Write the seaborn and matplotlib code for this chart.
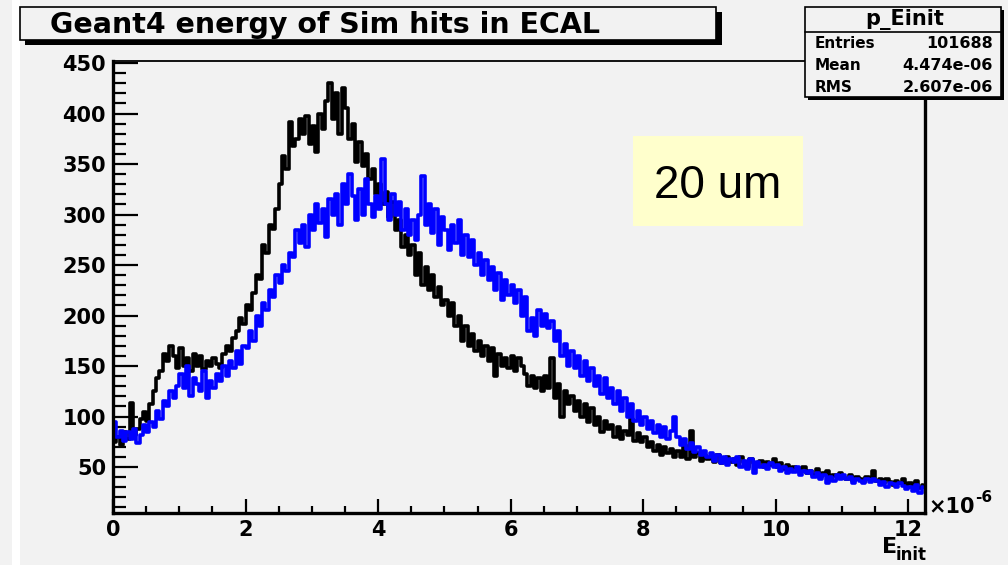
import numpy as np
import pandas as pd
import seaborn as sns
import matplotlib.pyplot as plt
from matplotlib.ticker import MultipleLocator
from matplotlib.patches import Rectangle

# histogram settings (E_init in units of 1e-6)
bin_width = 0.05
x_max = 12.25

# black histogram, one value per 0.05 bin (rows of 0.5)
black_counts = [
    75, 80, 72, 85, 78, 113, 82, 88, 98, 104,
    96, 112, 125, 138, 145, 162, 155, 170, 160, 148,
    168, 150, 158, 145, 162, 150, 160, 147, 155, 150,
    158, 152, 148, 162, 170, 165, 178, 185, 198, 192,
    210, 205, 222, 240, 236, 270, 262, 290, 286, 305,
    330, 358, 345, 392, 368, 375, 395, 380, 398, 370,
    388, 362, 400, 385, 412, 430, 395, 420, 380, 425,
    405, 375, 390, 352, 372, 348, 360, 335, 345, 320,
    330, 310, 322, 298, 312, 285, 295, 268, 280, 260,
    270, 240, 262, 230, 248, 225, 240, 218, 228, 210,
    215, 200, 212, 190, 200, 175, 190, 170, 182, 165,
    175, 160, 170, 155, 168, 140, 162, 150, 158, 148,
    160, 145, 158, 150, 142, 130, 140, 128, 138, 125,
    140, 128, 158, 118, 132, 100, 125, 112, 120, 105,
    115, 100, 112, 95, 108, 92, 100, 85, 96, 88,
    92, 80, 90, 78, 86, 82, 98, 76, 84, 75,
    80, 70, 75, 66, 72, 62, 70, 64, 68, 60,
    66, 60, 72, 58, 86, 60, 64, 56, 62, 58,
    60, 55, 62, 54, 58, 60, 55, 58, 52, 60,
    55, 50, 58, 54, 52, 56, 50, 55, 52, 58,
    50, 54, 48, 52, 46, 50, 48, 45, 50, 44,
    46, 42, 48, 40, 44, 46, 38, 42, 40, 44,
    40, 38, 42, 36, 40, 38, 35, 40, 37, 46,
    36, 38, 34, 38, 35, 32, 36, 34, 38, 32,
    34, 30, 36, 29, 32,
]

# blue histogram
blue_counts = [
    95, 80, 86, 76, 85, 78, 88, 74, 82, 92,
    85, 95, 90, 105, 98, 115, 110, 125, 118, 130,
    142, 128, 150, 120, 138, 132, 125, 145, 118, 135,
    128, 142, 135, 150, 140, 155, 148, 165, 152, 170,
    168, 185, 175, 200, 190, 212, 205, 225, 218, 240,
    232, 250, 244, 262, 258, 285, 272, 290, 268, 300,
    285, 310, 292, 305, 278, 315, 300, 320, 290, 330,
    310, 340, 318, 295, 325, 300, 335, 310, 298, 318,
    305, 355, 310, 295, 320, 300, 312, 285, 305, 280,
    295, 275, 300, 338, 290, 310, 282, 305, 270, 298,
    285, 265, 290, 272, 295, 260, 280, 258, 275, 250,
    262, 240, 255, 235, 248, 225, 242, 215, 235, 220,
    230, 212, 225, 200, 218, 185, 198, 180, 205, 190,
    202, 188, 195, 175, 185, 160, 172, 150, 165, 148,
    160, 140, 155, 135, 148, 130, 140, 122, 138, 118,
    128, 112, 125, 105, 118, 100, 112, 96, 105, 92,
    100, 88, 96, 84, 92, 80, 90, 78, 86, 100,
    80, 72, 78, 68, 74, 65, 70, 62, 66, 60,
    64, 56, 62, 54, 60, 52, 58, 55, 60, 50,
    56, 48, 58, 44, 55, 50, 52, 48, 54, 50,
    52, 46, 50, 44, 48, 45, 50, 42, 46, 44,
    46, 40, 44, 38, 42, 34, 40, 36, 42, 38,
    42, 38, 40, 34, 38, 36, 34, 38, 35, 38,
    36, 32, 35, 30, 34, 33, 30, 34, 31, 28,
    30, 26, 32, 24, 30,
]

title = "Geant4 energy of Sim hits in ECAL"
stats_name = "p_Einit"
stats_labels = ["Entries", "Mean", "RMS"]
stats_values = ["101688", "4.474e-06", "2.607e-06"]
note = "20 um"

centers = (np.arange(len(black_counts)) + 0.5) * bin_width
df = pd.DataFrame({
    "E": np.concatenate([centers, centers]),
    "count": black_counts + blue_counts,
    "sample": ["black"] * len(black_counts) + ["blue"] * len(blue_counts),
})

W, H = 1008, 565
bg = "#f2f2f2"
sns.set_style("ticks", {"axes.edgecolor": "black", "text.color": "black",
                        "xtick.color": "black", "ytick.color": "black"})
plt.rcParams["font.family"] = ["DejaVu Sans"]

fig = plt.figure(figsize=(W / 100, H / 100), dpi=100, facecolor=bg)


def fbox(x0, y0, x1, y1, **kw):
    # rectangle in pixel coords (top-left origin)
    return Rectangle((x0 / W, 1 - y1 / H), (x1 - x0) / W, (y1 - y0) / H,
                     transform=fig.transFigure, **kw)


def ftext(x, y, s, **kw):
    fig.text(x / W, 1 - y / H, s, color="black", **kw)


fig.patches.append(fbox(12, 0, 20, H, fc="white", ec="none", zorder=0))

ax = fig.add_axes([113 / W, 1 - 513 / H, (925 - 113) / W, (513 - 61) / H])
ax.set_facecolor(bg)

sns.lineplot(data=df, x="E", y="count", hue="sample",
             palette={"black": "black", "blue": "blue"},
             drawstyle="steps-mid", linewidth=2.6, estimator=None,
             legend=False, ax=ax)

ax.set_xlim(0, x_max)
ax.set_ylim(4.5, 452)
ax.set_xlabel("")
ax.set_ylabel("")
ax.xaxis.set_major_locator(MultipleLocator(2))
ax.xaxis.set_minor_locator(MultipleLocator(0.5))
ax.yaxis.set_minor_locator(MultipleLocator(10))
ax.set_yticks([50, 100, 150, 200, 250, 300, 350, 400, 450])
ax.tick_params(axis="y", which="major", direction="in", length=18, width=1.6,
               labelsize=15, pad=5)
ax.tick_params(axis="y", which="minor", direction="in", length=9, width=1.6)
ax.tick_params(axis="x", which="major", direction="in", length=10, width=1.6,
               labelsize=15, pad=5)
ax.tick_params(axis="x", which="minor", direction="in", length=5, width=1.6)
for lab in ax.get_xticklabels() + ax.get_yticklabels():
    lab.set_fontweight("bold")
for side in ["left", "bottom", "right"]:
    ax.spines[side].set_linewidth(2.4)
ax.spines["top"].set_linewidth(1.3)

# x-axis exponent and label
ftext(928, 507, "\u00d710", fontsize=15, fontweight="bold", va="center", ha="left")
ftext(975, 497, "-6", fontsize=11, fontweight="bold", va="center", ha="left")
ftext(882, 547, "E", fontsize=16, fontweight="bold", va="center", ha="left")
ftext(896, 555, "init", fontsize=12, fontweight="bold", va="center", ha="left")

# title box with shadow
fig.patches.append(fbox(25, 12, 722, 45, fc="black", ec="none", zorder=5))
fig.patches.append(fbox(20, 7, 716, 40, fc=bg, ec="black", lw=1.2, zorder=6))
ftext(50, 25, title, fontsize=20.5, fontweight="bold", va="center", ha="left", zorder=7)

# stats box
fig.patches.append(fbox(808, 10, 1004, 100, fc="black", ec="none", zorder=5))
fig.patches.append(fbox(805, 7, 1001, 97, fc=bg, ec="black", lw=1.2, zorder=6))
fig.lines.append(plt.Line2D([805 / W, 1001 / W], [1 - 32 / H, 1 - 32 / H],
                            transform=fig.transFigure, color="black", lw=1.2, zorder=7))
ftext(905, 20, stats_name, fontsize=15, fontweight="bold", va="center", ha="center", zorder=7)
for i, (lab, val) in enumerate(zip(stats_labels, stats_values)):
    yy = 43 + i * 22.5
    ftext(815, yy, lab, fontsize=11, fontweight="bold", va="center", ha="left", zorder=7)
    ftext(993, yy, val, fontsize=11.5, fontweight="bold", va="center", ha="right", zorder=7)

# yellow note box
fig.patches.append(fbox(633, 136, 803, 226, fc="#ffffcc", ec="none", zorder=5))
ftext(718, 186, note, family="Liberation Sans", fontsize=33, va="center", ha="center", zorder=7)

fig.savefig("out.png", dpi=100, facecolor=bg)
